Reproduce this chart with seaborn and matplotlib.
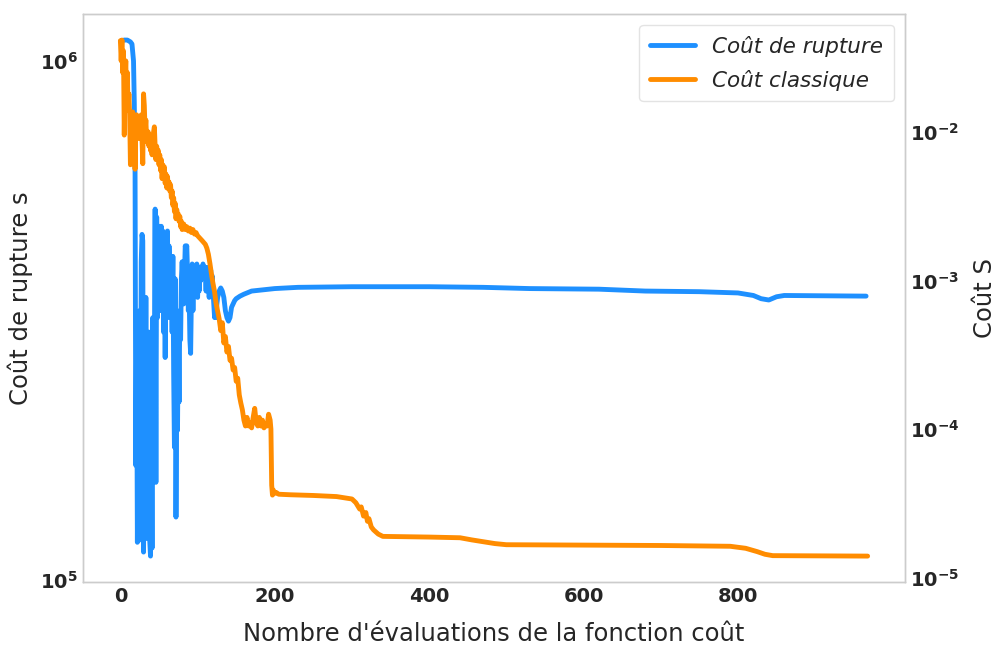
import matplotlib
matplotlib.use("Agg")
import matplotlib.pyplot as plt
import seaborn as sns
from matplotlib.lines import Line2D

# ---- data ----
rupture_x = [0, 5, 9, 13, 15, 17, 18, 19, 20, 21, 22, 23, 24, 25, 26, 27, 28, 29, 30,
             31, 32, 33, 34, 35, 36, 37, 38, 39, 40, 41, 42, 43, 44, 45, 46, 47, 48, 49, 50,
             51, 52, 53, 54, 55, 56, 57, 58, 59, 60, 61, 62, 63, 64, 65, 66, 67, 68, 69, 70,
             71, 72, 73, 74, 75, 76, 77, 78, 79, 80, 82, 84, 85, 86, 87, 88, 89, 90,
             91, 92, 93, 94, 95, 96, 97, 98, 99, 100, 101, 102, 103, 104, 105, 106, 107, 108,
             109, 110, 111, 112, 113, 114, 115, 116, 117, 118, 119, 120, 121, 122, 123, 124,
             125, 126, 128, 130, 132, 134, 136, 138, 140, 142, 144, 146, 148, 150, 155, 160,
             170, 185, 200, 230, 300, 400, 470, 530, 620, 680, 750, 800, 820, 830, 840, 850,
             860, 966]
rupture_y = [1.09e6, 1.097e6, 1.097e6, 1.088e6, 1.078e6, 1.0e6, 8.3e5, 6.1e5, 1.66e5, 3.0e5,
             1.18e5, 2.4e5, 1.19e5, 3.3e5, 1.56e5, 4.1e5, 4.63e5, 4.5e5, 1.13e5,
             2.7e5, 1.30e5, 3.5e5, 1.2e5, 2.2e5, 1.42e5, 3.0e5, 1.19e5, 1.11e5, 2.4e5,
             1.15e5, 3.2e5, 1.6e5, 2.7e5, 5.18e5, 1.54e5, 5.0e5, 3.2e5, 4.8e5, 3.9e5,
             4.8e5, 3.3e5, 4.8e5, 3.6e5, 4.7e5, 3.0e5, 4.6e5, 2.68e5, 4.6e5, 3.4e5,
             4.7e5, 3.2e5, 4.4e5, 3.8e5, 4.2e5, 4.0e5, 3.0e5, 4.2e5, 2.5e5, 1.8e5,
             3.8e5, 1.32e5, 2.5e5, 1.94e5, 3.1e5, 2.2e5, 3.3e5, 2.9e5, 3.8e5, 4.1e5,
             3.4e5, 4.4e5, 4.3e5, 4.4e5, 3.9e5, 3.3e5, 3.6e5, 2.9e5,
             2.73e5, 3.5e5, 4.06e5, 3.3e5, 3.94e5, 3.6e5, 4.0e5, 3.7e5, 4.06e5, 3.5e5,
             3.9e5, 3.6e5, 4.0e5, 3.77e5, 4.0e5, 3.8e5, 4.06e5, 3.9e5,
             4.0e5, 3.9e5, 3.6e5, 4.0e5, 3.8e5, 3.9e5, 3.5e5, 3.8e5, 3.95e5, 3.7e5,
             3.85e5, 3.6e5, 3.4e5, 3.2e5, 3.3e5, 3.2e5,
             3.4e5, 3.5e5, 3.6e5, 3.65e5, 3.6e5, 3.5e5, 3.3e5, 3.2e5, 3.15e5, 3.2e5,
             3.35e5, 3.4e5, 3.45e5, 3.48e5, 3.52e5, 3.55e5,
             3.6e5, 3.62e5, 3.64e5, 3.66e5, 3.67e5, 3.67e5, 3.66e5, 3.64e5, 3.63e5, 3.6e5,
             3.59e5, 3.57e5, 3.53e5, 3.48e5, 3.46e5, 3.51e5,
             3.53e5, 3.52e5]

classique_x = [0, 1, 2, 3, 4, 5, 6, 7, 8, 9, 10, 11, 12, 13, 14, 15, 16, 17, 18, 19, 20,
               21, 22, 23, 24, 25, 26, 27, 28, 29, 30, 31, 32, 33, 34, 35, 36, 37, 38, 39, 40,
               41, 42, 43, 44, 45, 46, 47, 48, 49, 50, 51, 52, 53, 54, 55, 56, 57, 58, 59, 60,
               61, 62, 63, 64, 65, 66, 67, 68, 69, 70, 71, 72, 73, 74, 75, 76, 77, 78, 79, 80,
               82, 84, 86, 88, 90, 92, 94, 96, 98, 100, 102, 104, 106, 108, 110, 112, 114, 116,
               118, 120, 122, 124, 126, 128, 130, 132, 134, 136, 138, 140, 142, 144, 146, 148,
               150, 152, 154, 156, 158, 160, 162, 164, 166, 168, 170, 172, 174, 176, 178, 180,
               182, 184, 186, 188, 190, 192, 194, 195, 196, 197, 198, 200, 202, 205, 220, 250,
               280, 300, 305, 310, 312, 315, 318, 320, 322, 325, 328, 334, 340, 400, 440, 455,
               470, 485, 500, 700, 790, 810, 825, 835, 845, 968]
classique_y = [4.1e-2, 3.0e-2, 4.14e-2, 2.5e-2, 3.5e-2, 9.5e-3, 2.2e-2, 3.0e-2, 1.6e-2, 2.5e-2,
               1.4e-2, 1.8e-2, 1.3e-2, 6.0e-3, 1.2e-2, 8.0e-3, 1.36e-2, 9.0e-3, 1.2e-2, 5.6e-3,
               1.1e-2, 1.3e-2, 1.0e-2, 1.2e-2, 9.0e-3, 1.25e-2, 1.1e-2, 1.3e-2, 9.0e-3, 6.1e-3,
               1.8e-2, 1.5e-2, 1.0e-2, 1.2e-2, 9.0e-3, 8.5e-3, 1.0e-2, 8.0e-3, 9.5e-3, 7.5e-3,
               8.5e-3, 7.0e-3, 9.0e-3, 1.0e-2, 1.08e-2, 8.0e-3, 6.5e-3, 8.0e-3, 7.0e-3, 7.5e-3,
               6.0e-3, 7.0e-3, 5.5e-3, 6.5e-3, 4.84e-3, 6.0e-3, 5.0e-3, 5.8e-3, 4.5e-3, 5.2e-3,
               4.2e-3, 5.0e-3, 4.14e-3, 4.6e-3, 4.0e-3, 4.4e-3, 3.6e-3, 4.0e-3, 3.2e-3, 3.6e-3,
               2.9e-3, 3.3e-3, 2.6e-3, 3.0e-3, 2.7e-3, 2.8e-3, 2.5e-3, 2.7e-3, 2.3e-3, 2.5e-3,
               2.2e-3, 2.4e-3, 2.2e-3, 2.3e-3, 2.15e-3, 2.25e-3, 2.1e-3, 2.2e-3, 2.05e-3, 2.1e-3,
               2.0e-3, 1.95e-3, 1.9e-3, 1.85e-3, 1.8e-3, 1.75e-3, 1.65e-3, 1.5e-3, 1.3e-3,
               1.1e-3, 9.5e-4, 8.4e-4, 7.0e-4, 6.2e-4, 5.5e-4, 4.6e-4, 5.2e-4, 3.8e-4, 4.2e-4,
               3.3e-4, 3.6e-4, 2.9e-4, 3.0e-4, 2.5e-4, 2.6e-4,
               2.1e-4, 2.2e-4, 1.7e-4, 1.5e-4, 1.35e-4, 1.15e-4, 1.05e-4, 1.2e-4, 1.05e-4,
               1.1e-4, 1.02e-4, 1.2e-4, 1.38e-4, 1.1e-4, 1.05e-4, 1.2e-4,
               1.05e-4, 1.15e-4, 1.02e-4, 1.08e-4, 1.05e-4, 1.26e-4, 1.15e-4, 1.0e-4, 4.2e-5,
               3.6e-5, 3.9e-5, 3.7e-5, 3.75e-5, 3.65e-5, 3.62e-5, 3.58e-5,
               3.52e-5, 3.39e-5, 3.2e-5, 2.9e-5, 3.0e-5, 2.6e-5, 2.75e-5, 2.4e-5, 2.5e-5,
               2.2e-5, 2.1e-5, 1.97e-5, 1.9e-5, 1.88e-5, 1.86e-5, 1.8e-5,
               1.75e-5, 1.7e-5, 1.67e-5, 1.65e-5, 1.63e-5, 1.58e-5, 1.5e-5, 1.44e-5, 1.41e-5, 1.4e-5]

x_ticks = [0, 200, 400, 600, 800]
label_rupture = "Coût de rupture"
label_classique = "Coût classique"
xlabel = "Nombre d'évaluations de la fonction coût"
ylabel_left = "Coût de rupture s"
ylabel_right = "Coût S"

# ---- style ----
sns.set_style("whitegrid")
plt.rcParams['font.family'] = ['DejaVu Sans']
blue = "#1E90FF"
orange = "#FF8C00"

fig, ax = plt.subplots(figsize=(9.98, 6.48), dpi=100)
fig.subplots_adjust(left=0.0832, right=0.9068, top=0.978, bottom=0.102)

sns.lineplot(x=rupture_x, y=rupture_y, ax=ax, color=blue, linewidth=3.5,
             sort=False, estimator=None, legend=False)
ax.set_yscale("log")
ax2 = ax.twinx()
sns.lineplot(x=classique_x, y=classique_y, ax=ax2, color=orange, linewidth=3.5,
             sort=False, estimator=None, legend=False)
ax2.set_yscale("log")
ax.set_xticks(x_ticks)

for a in (ax, ax2):
    a.grid(False)
    a.tick_params(axis='both', which='both', length=0, labelsize=14, colors='#262626')
    for lab in a.get_xticklabels() + a.get_yticklabels():
        lab.set_fontweight('bold')
    for s in a.spines.values():
        s.set_color('#cccccc')
        s.set_linewidth(1.0)

ax.minorticks_off()
ax2.minorticks_off()

ax.set_xlabel(xlabel, fontsize=17.5, labelpad=12, color='#262626')
ax.set_ylabel(ylabel_left, fontsize=17.5, labelpad=5, color='#262626')
ax2.set_ylabel(ylabel_right, fontsize=17.5, labelpad=10, color='#262626')

handles = [Line2D([0], [0], color=blue, lw=3.5), Line2D([0], [0], color=orange, lw=3.5)]
leg = ax2.legend(handles, [label_rupture, label_classique], loc="upper right",
                 prop={'size': 15.5, 'style': 'italic'}, frameon=True,
                 handlelength=2.1, labelspacing=0.6, borderpad=0.5)
leg.get_frame().set_edgecolor('#dddddd')

fig.savefig("out.png", dpi=100)
